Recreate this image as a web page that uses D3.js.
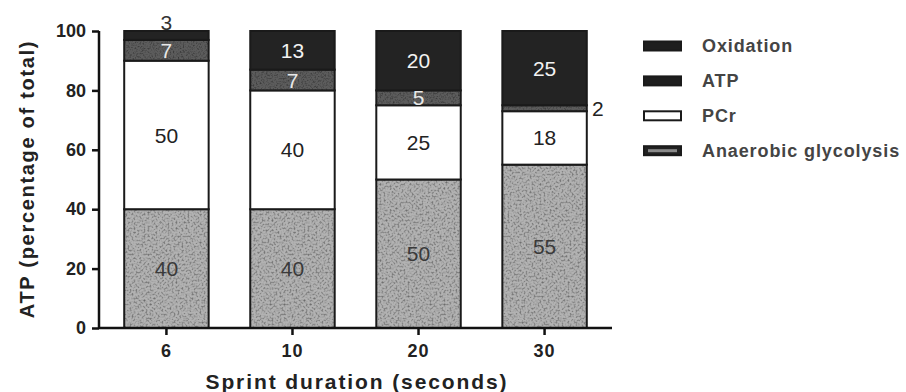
<!DOCTYPE html>
<html><head><meta charset="utf-8">
<script src="https://cdn.jsdelivr.net/npm/d3@7"></script>
<style>body{margin:0;background:#fff}svg{display:block}text{font-family:"Liberation Sans",Arial,sans-serif}</style>
</head><body><svg id="c" width="906" height="392"></svg>
<script>
const categories = ["6","10","20","30"];
const seriesNames = ["Anaerobic glycolysis","PCr","ATP","Oxidation"];
const glycolysis = [40,40,50,55];
const pcr = [50,40,25,18];
const atp = [7,7,5,2];
const oxidation = [3,13,20,25];
const yTicks = [0,20,40,60,80,100];
const legendOrder = ["Oxidation","ATP","PCr","Anaerobic glycolysis"];

const fills = {"Anaerobic glycolysis":"url(#pGly)","PCr":"#ffffff","ATP":"url(#pAtp)","Oxidation":"#232323"};
const labelColor = {"Anaerobic glycolysis":"#3a3a3a","PCr":"#222","ATP":"#e8e8e8","Oxidation":"#f2f2f2"};

const svg = d3.select("#c");
const defs = svg.append("defs");
function noisePattern(id, base, op, freq){
  const f = defs.append("filter").attr("id", id+"f").attr("x",0).attr("y",0).attr("width","100%").attr("height","100%");
  f.append("feTurbulence").attr("type","fractalNoise").attr("baseFrequency",freq).attr("numOctaves",3).attr("seed",5).attr("result","n");
  f.append("feColorMatrix").attr("in","n").attr("type","matrix")
   .attr("values","0 0 0 0 0  0 0 0 0 0  0 0 0 0 0  0 0 0 "+op+" -"+(op*0.45));
  const p = defs.append("pattern").attr("id", id).attr("patternUnits","userSpaceOnUse").attr("width",160).attr("height",160);
  p.append("rect").attr("width",160).attr("height",160).attr("fill",base);
  p.append("rect").attr("width",160).attr("height",160).attr("fill","#000").attr("filter","url(#"+id+"f)");
}
noisePattern("pGly","#b2b2b2",1.0,0.5);
noisePattern("pAtp","#5c5c5c",0.9,0.6);

const x = d3.scaleBand().domain(categories).range([99,612]).paddingInner(0.33).paddingOuter(0.2);
const y = d3.scaleLinear().domain([0,100]).range([328,31]);

const table = categories.map((c,i)=>({cat:c,"Anaerobic glycolysis":glycolysis[i],"PCr":pcr[i],"ATP":atp[i],"Oxidation":oxidation[i]}));
const stack = d3.stack().keys(seriesNames)(table);

const g = svg.append("g");
stack.forEach(layer=>{
  const key = layer.key;
  layer.forEach(d=>{
    g.append("rect")
      .attr("x", x(d.data.cat)).attr("width", x.bandwidth())
      .attr("y", y(d[1])).attr("height", y(d[0]) - y(d[1]))
      .attr("fill", fills[key]).attr("stroke","#1a1a1a").attr("stroke-width",2);
  });
});
// labels
stack.forEach(layer=>{
  const key = layer.key;
  layer.forEach((d,i)=>{
    const v = d[1]-d[0];
    let tx = x(d.data.cat)+x.bandwidth()/2, ty = y((d[0]+d[1])/2), col = labelColor[key];
    if (key==="Oxidation" && v<5){ ty = y(d[1]) - 9; col = "#333"; }
    else if (key==="ATP" && v<4){ tx = x(d.data.cat)+x.bandwidth()+11; col="#222"; }
    g.append("text").attr("x",tx).attr("y",ty).attr("dy","0.36em").attr("text-anchor","middle")
      .attr("font-size",21).attr("fill",col).text(v);
  });
});

// axes
const ya = svg.append("g").attr("transform","translate(99,0)")
  .call(d3.axisLeft(y).tickValues(yTicks).tickSize(7).tickPadding(6));
const xa = svg.append("g").attr("transform","translate(0,328)")
  .call(d3.axisBottom(x).tickSize(7).tickPadding(9));
[ya,xa].forEach(a=>{
  a.select(".domain").attr("stroke","#111").attr("stroke-width",2.5);
  a.selectAll(".tick line").attr("stroke","#111").attr("stroke-width",2.5);
  a.selectAll(".tick text").attr("font-size",18).attr("font-weight","bold").attr("fill","#222")
    .style("font-family","'Liberation Sans',Arial,sans-serif");
});
xa.selectAll(".tick text").style("letter-spacing","1px");
ya.select(".domain").attr("d","M0,"+y(0)+"V"+y(100));
xa.select(".domain").attr("d","M99,0H612");

svg.append("text").attr("transform","translate(34,179) rotate(-90)").attr("text-anchor","middle")
  .attr("font-size",20).attr("font-weight","bold").attr("fill","#222").style("letter-spacing","1.7px")
  .text("ATP (percentage of total)");
svg.append("text").attr("x",357).attr("y",389).attr("text-anchor","middle")
  .attr("font-size",21).attr("font-weight","bold").attr("fill","#222").style("letter-spacing","1.9px")
  .text("Sprint duration (seconds)");

// legend
const legendFill = {"Oxidation":"#1e1e1e","ATP":"#1e1e1e","PCr":"#fff","Anaerobic glycolysis":"#222"};
const lg = svg.append("g");
legendOrder.forEach((k,i)=>{
  const cy = 46 + i*34.9;
  lg.append("rect").attr("x",644).attr("y",cy-4.5).attr("width",37).attr("height",9)
    .attr("fill",legendFill[k]).attr("stroke","#1a1a1a").attr("stroke-width",2);
  if(k==="Anaerobic glycolysis") lg.append("rect").attr("x",648).attr("y",cy-1.5).attr("width",29).attr("height",3).attr("fill","#8a8a8a");
  lg.append("text").attr("x",702).attr("y",cy).attr("dy","0.36em").attr("font-size",18).attr("font-weight","bold")
    .attr("fill","#444").style("letter-spacing","0.9px").text(k);
});
</script></body></html>
